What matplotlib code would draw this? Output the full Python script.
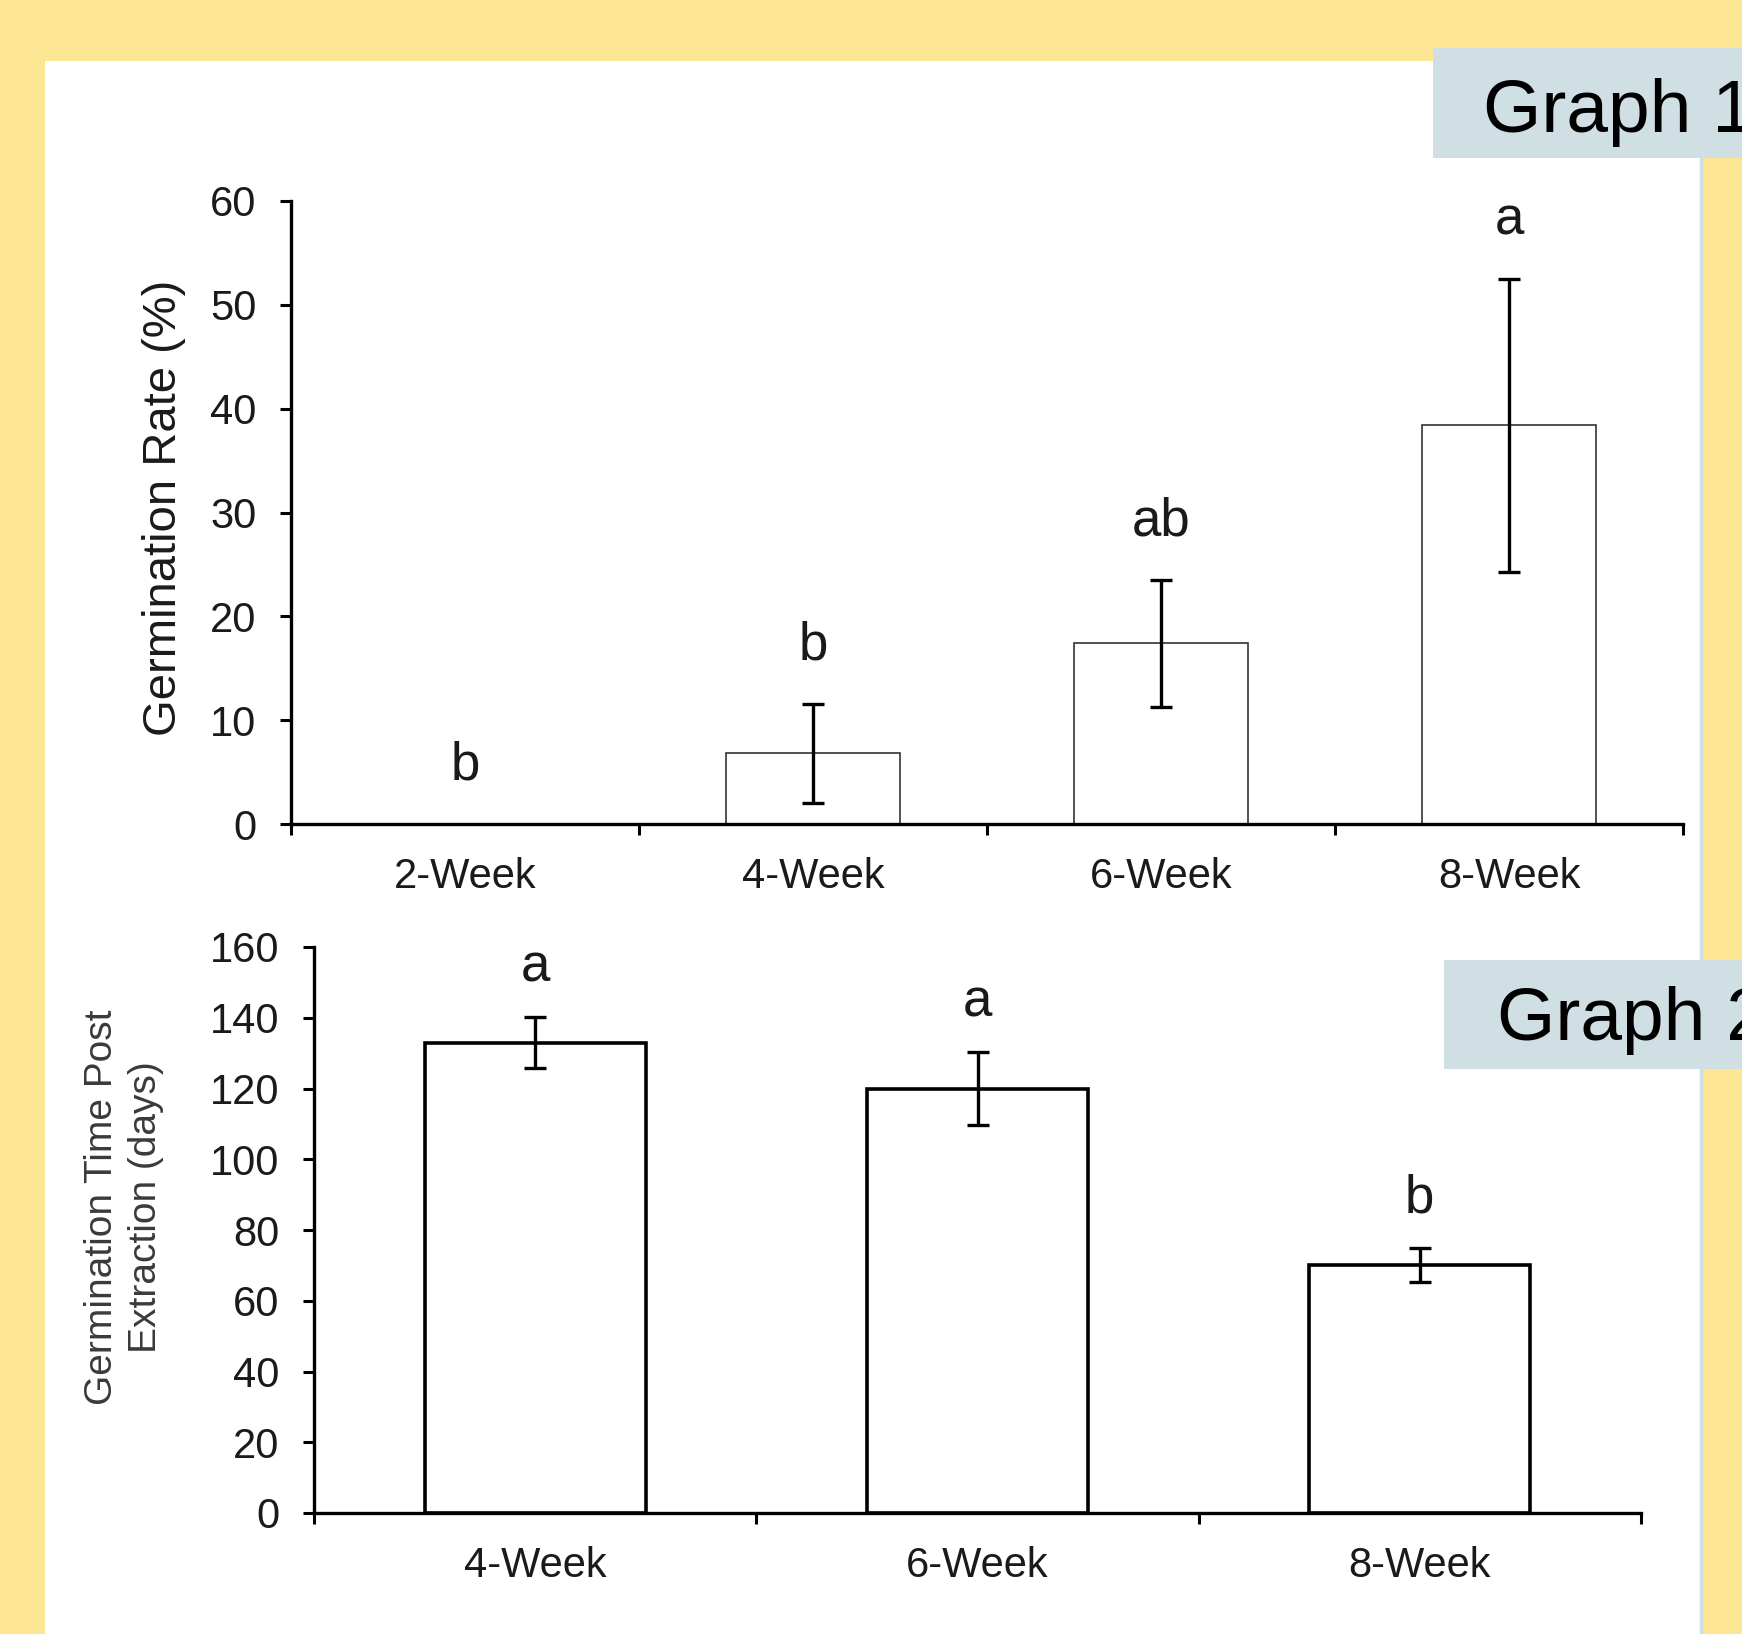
import matplotlib
matplotlib.use("Agg")
import matplotlib.pyplot as plt
from matplotlib.patches import Rectangle
from matplotlib.lines import Line2D

plt.rcParams['font.family'] = ['Liberation Sans', 'DejaVu Sans']

# ---- Data ----
cats1 = ["2-Week", "4-Week", "6-Week", "8-Week"]
rate = [0.0, 6.8, 17.4, 38.4]
rate_err = [0.0, 4.8, 6.1, 14.1]
rate_letters = ["b", "b", "ab", "a"]

cats2 = ["4-Week", "6-Week", "8-Week"]
days = [133.0, 120.0, 70.0]
days_err = [7.2, 10.2, 4.8]
days_letters = ["a", "a", "b"]

W, H = 1742, 1634
fig = plt.figure(figsize=(W / 100, H / 100), dpi=100)
YELLOW = "#FCE593"
BOXC = "#D0DFE4"
fig.patch.set_facecolor(YELLOW)

# white panel
fig.patches.append(Rectangle((45 / W, 0), (1700 - 45) / W, 1 - 61 / H,
                             transform=fig.transFigure, facecolor="white",
                             edgecolor="none", zorder=-2))
fig.lines.append(Line2D([1701 / W, 1701 / W], [0, 1 - 158 / H],
                        transform=fig.transFigure, color=BOXC, lw=2.5, zorder=-1))

def px(x0, y_top, x1, y_bot):
    return [x0 / W, 1 - y_bot / H, (x1 - x0) / W, (y_bot - y_top) / H]

def style_axes(ax, n, ylim, yticks):
    ax.set_facecolor("none")
    for s in ("top", "right"):
        ax.spines[s].set_visible(False)
    for s in ("left", "bottom"):
        ax.spines[s].set_linewidth(2.4)
        ax.spines[s].set_color("black")
    ax.set_xlim(-0.5, n - 0.5)
    ax.set_ylim(*ylim)
    ax.set_yticks(yticks)
    ax.set_xticks(range(n))
    ax.set_xticks([i - 0.5 for i in range(n + 1)], minor=True)
    ax.tick_params(axis="x", which="major", length=0, pad=24, labelsize=30,
                   labelcolor="#1a1a1a")
    ax.tick_params(axis="x", which="minor", length=8, width=2.2,
                   direction="out", color="black")
    ax.tick_params(axis="y", length=8, width=2.2, direction="out",
                   pad=17, labelsize=30, labelcolor="#1a1a1a")

# ---- Graph 1 ----
ax1 = fig.add_axes(px(291, 201, 1683, 824))
ax1.bar(range(len(cats1)), rate, width=0.5, color="white",
        edgecolor="#333333", linewidth=1.2, zorder=2)
ax1.errorbar([i for i in range(len(cats1)) if rate[i] > 0],
             [r for r in rate if r > 0],
             yerr=[e for r, e in zip(rate, rate_err) if r > 0],
             fmt="none", ecolor="black", elinewidth=2.4, capsize=8,
             capthick=2.4, zorder=3)
for i, (r, e, t) in enumerate(zip(rate, rate_err, rate_letters)):
    ax1.annotate(t, (i, r + e), xytext=(0, 42), textcoords="offset points",
                 ha="center", va="center", fontsize=38, color="#1a1a1a")
style_axes(ax1, len(cats1), (0, 60), range(0, 61, 10))
ax1.set_xticklabels(cats1)
ax1.text(-0.0912, 0.507, "Germination Rate (%)", transform=ax1.transAxes,
         rotation=90, ha="center", va="center", fontsize=34, color="#1a1a1a")

# ---- Graph 2 ----
ax2 = fig.add_axes(px(314, 947, 1641, 1513))
ax2.bar(range(len(cats2)), days, width=0.5, color="white",
        edgecolor="black", linewidth=2.6, zorder=2)
ax2.errorbar(range(len(cats2)), days, yerr=days_err, fmt="none",
             ecolor="black", elinewidth=2.4, capsize=8, capthick=2.4, zorder=3)
for i, (d, e, t) in enumerate(zip(days, days_err, days_letters)):
    ax2.annotate(t, (i, d + e), xytext=(0, 36), textcoords="offset points",
                 ha="center", va="center", fontsize=38, color="#1a1a1a")
style_axes(ax2, len(cats2), (0, 160), range(0, 161, 20))
ax2.set_xticklabels(cats2)
ax2.text(-0.143, 0.54, "Germination Time Post\nExtraction (days)",
         transform=ax2.transAxes, rotation=90, ha="center", va="center",
         multialignment="center", fontsize=28, color="#3a3a3a",
         linespacing=1.3)

# ---- Graph labels ----
fig.patches.append(Rectangle((1433 / W, 1 - 158 / H), 1.0, 110 / H,
                             transform=fig.transFigure, facecolor=BOXC,
                             edgecolor="none", zorder=5))
fig.text(1483 / W, 1 - 132 / H, "Graph 1", fontsize=54, va="baseline",
         ha="left", color="black", zorder=6)
fig.patches.append(Rectangle((1444 / W, 1 - 1069 / H), 1.0, 109 / H,
                             transform=fig.transFigure, facecolor=BOXC,
                             edgecolor="none", zorder=5))
fig.text(1497 / W, 1 - 1040 / H, "Graph 2", fontsize=54, va="baseline",
         ha="left", color="black", zorder=6)

fig.savefig("out.png", dpi=100, facecolor=fig.get_facecolor())
